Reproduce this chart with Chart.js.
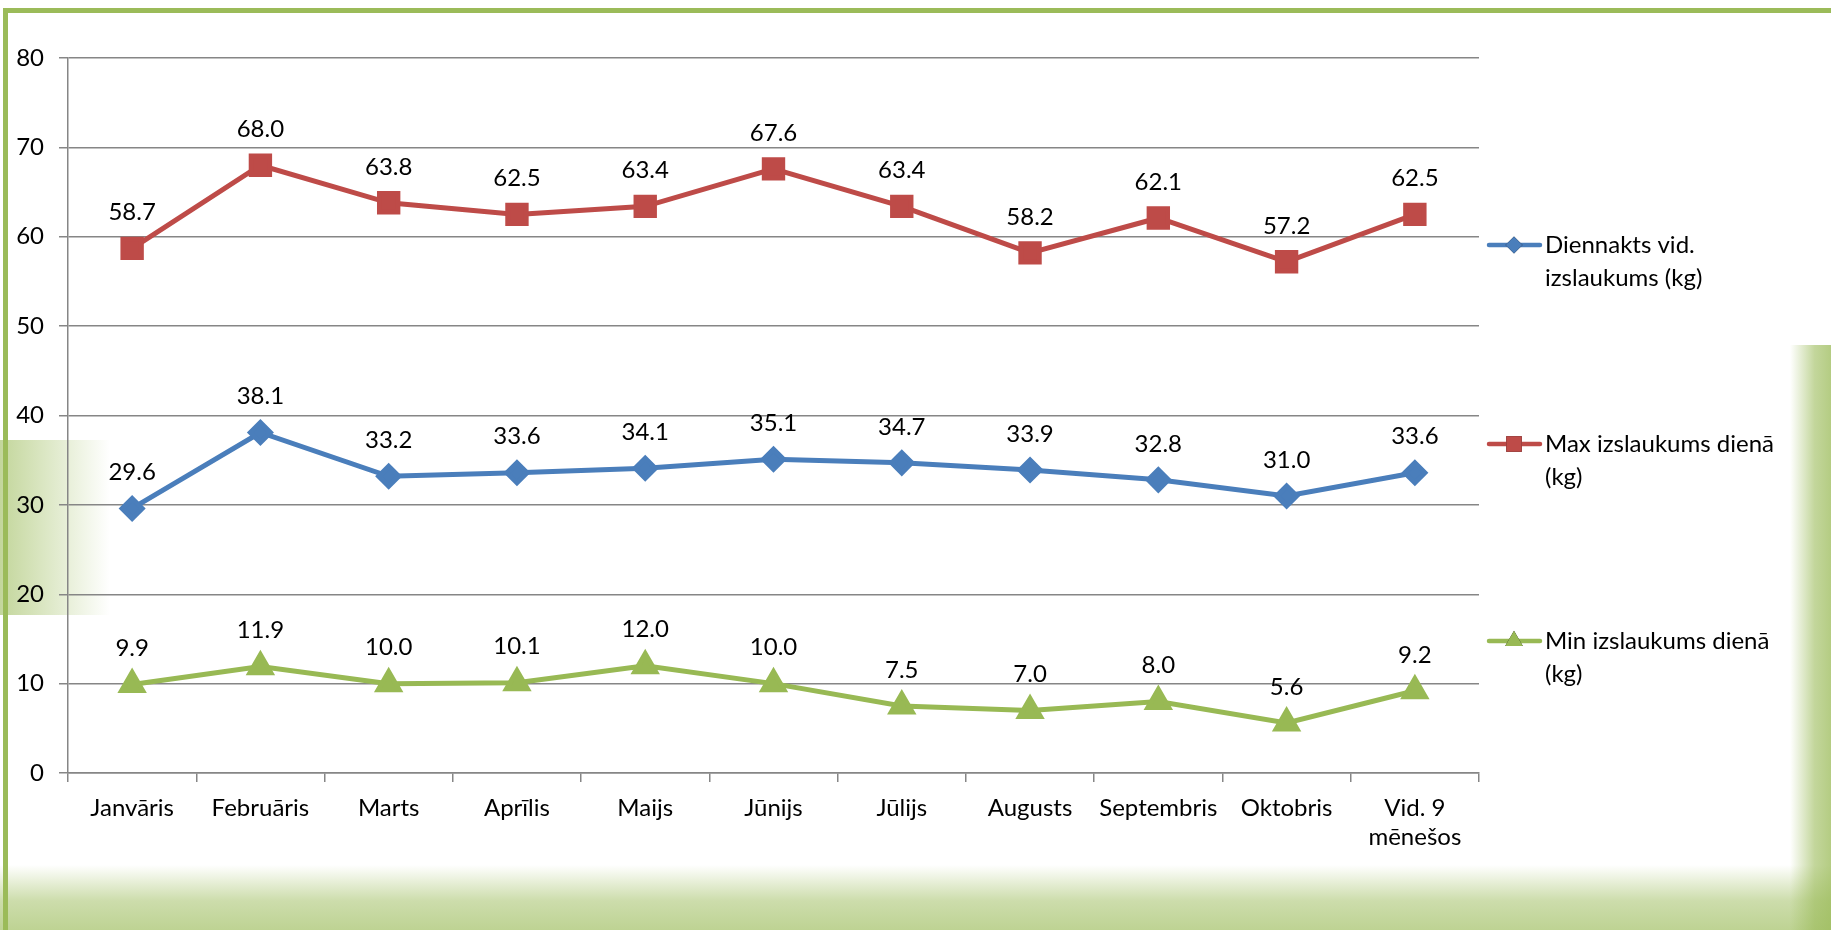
<!DOCTYPE html>
<html lang="lv">
<head>
  <meta charset="UTF-8" />
  <title>Izslaukums</title>
  <script src="https://cdn.jsdelivr.net/npm/chart.js@4.4.0/dist/chart.umd.min.js"></script>
  <style>
    html, body {
      margin: 0;
      padding: 0;
      background: #fff;
      overflow: hidden;
    }
    .frame {
      position: absolute;
      left: 3px;
      top: 8px;
      width: 1828px;
      height: 922px;
      border-top: 5px solid #9bbb59;
      border-left: 5px solid #9bbb59;
      box-sizing: border-box;
    }
    .band-bottom {
      position: absolute;
      left: 0;
      top: 865px;
      width: 1831px;
      height: 65px;
      background: linear-gradient(to bottom, rgba(155,187,89,0) 0%, rgba(155,187,89,0.5) 55%, rgba(155,187,89,0.65) 100%);
    }
    .band-right {
      position: absolute;
      left: 1790px;
      top: 345px;
      width: 41px;
      height: 585px;
      background: linear-gradient(to right, rgba(155,187,89,0) 0%, rgba(155,187,89,0.6) 60%, rgba(155,187,89,0.75) 100%);
    }
    .patch-left {
      position: absolute;
      left: 0;
      top: 440px;
      width: 110px;
      height: 175px;
      background: linear-gradient(to right, rgba(155,187,89,0.6) 0%, rgba(155,187,89,0) 100%);
    }
    .chart-box {
      position: absolute;
      left: 0;
      top: 0;
      width: 1831px;
      height: 930px;
    }
  </style>
</head>
<body>
  <div class="band-bottom"></div>
  <div class="band-right"></div>
  <div class="patch-left"></div>
  <div class="frame"></div>
  <div class="chart-box">
    <canvas id="milkChart" width="1831" height="930"></canvas>
  </div>

  <script>
    // categories (months)
    const months = ["Janvāris", "Februāris", "Marts", "Aprīlis", "Maijs", "Jūnijs",
      "Jūlijs", "Augusts", "Septembris", "Oktobris", ["Vid. 9", "mēnešos"]];

    // series values
    const avgDay = [29.6, 38.1, 33.2, 33.6, 34.1, 35.1, 34.7, 33.9, 32.8, 31.0, 33.6];
    const maxDay = [58.7, 68.0, 63.8, 62.5, 63.4, 67.6, 63.4, 58.2, 62.1, 57.2, 62.5];
    const minDay = [9.9, 11.9, 10.0, 10.1, 12.0, 10.0, 7.5, 7.0, 8.0, 5.6, 9.2];

    const seriesNames = [
      ["Diennakts vid.", "izslaukums (kg)"],
      ["Max izslaukums dienā", "(kg)"],
      ["Min izslaukums dienā", "(kg)"]
    ];
    const yTicks = [0, 10, 20, 30, 40, 50, 60, 70, 80];

    const FONT = "Lato, 'Open Sans', sans-serif";
    const FONT_SIZE = 24;

    // value labels above every point
    const valueLabels = {
      id: "valueLabels",
      afterDatasetsDraw(chart) {
        const ctx = chart.ctx;
        ctx.save();
        ctx.font = FONT_SIZE + "px " + FONT;
        ctx.fillStyle = "#000";
        ctx.textAlign = "center";
        ctx.textBaseline = "middle";
        chart.data.datasets.forEach((ds, i) => {
          chart.getDatasetMeta(i).data.forEach((pt, j) => {
            ctx.fillText(ds.data[j].toFixed(1), pt.x, pt.y - 36);
          });
        });
        ctx.restore();
      }
    };

    // legend on the right, two lines per entry
    const sideLegend = {
      id: "sideLegend",
      afterDraw(chart) {
        const ctx = chart.ctx;
        const rows = [245, 444, 641];
        ctx.save();
        ctx.font = FONT_SIZE + "px " + FONT;
        ctx.textBaseline = "middle";
        ctx.textAlign = "left";
        chart.data.datasets.forEach((ds, i) => {
          const y = rows[i];
          ctx.strokeStyle = ds.borderColor;
          ctx.lineWidth = 4.5;
          ctx.lineCap = "round";
          ctx.beginPath();
          ctx.moveTo(1489, y);
          ctx.lineTo(1540, y);
          ctx.stroke();
          Chart.helpers.drawPoint(ctx, {
            pointStyle: ds.pointStyle,
            radius: ds.pointRadius * 0.85,
            rotation: 0,
            borderWidth: 0
          }, 1514, y);
          ctx.fillStyle = ds.pointBackgroundColor;
          ctx.fill();
          ctx.fillStyle = "#000";
          seriesNames[i].forEach((line, k) => {
            ctx.fillText(line, 1545, y + k * 33);
          });
        });
        ctx.restore();
      }
    };

    const ctx = document.getElementById("milkChart").getContext("2d");
    new Chart(ctx, {
      type: "line",
      data: {
        labels: months,
        datasets: [
          {
            label: seriesNames[0].join(" "),
            data: avgDay,
            borderColor: "#4a7ebb",
            backgroundColor: "#4a7ebb",
            pointBackgroundColor: "#4a7ebb",
            pointBorderColor: "#4a7ebb",
            pointStyle: "rectRot",
            pointRadius: 10,
            borderWidth: 5,
            tension: 0
          },
          {
            label: seriesNames[1].join(" "),
            data: maxDay,
            borderColor: "#be4b48",
            backgroundColor: "#be4b48",
            pointBackgroundColor: "#be4b48",
            pointBorderColor: "#be4b48",
            pointStyle: "rect",
            pointRadius: 13,
            borderWidth: 5,
            tension: 0
          },
          {
            label: seriesNames[2].join(" "),
            data: minDay,
            borderColor: "#98b954",
            backgroundColor: "#98b954",
            pointBackgroundColor: "#98b954",
            pointBorderColor: "#98b954",
            pointStyle: "triangle",
            pointRadius: 12,
            borderWidth: 5,
            tension: 0
          }
        ]
      },
      options: {
        responsive: false,
        animation: false,
        layout: { padding: { top: 58, right: 352, bottom: 0, left: 0 } },
        plugins: {
          legend: { display: false },
          tooltip: { enabled: false }
        },
        scales: {
          x: {
            offset: true,
            grid: {
              offset: true,
              drawOnChartArea: false,
              color: "#868686",
              lineWidth: 1.5,
              tickLength: 9
            },
            border: { color: "#868686", width: 1.5 },
            ticks: {
              color: "#000",
              font: { family: FONT, size: FONT_SIZE },
              padding: 12,
              maxRotation: 0,
              autoSkip: false
            },
            afterFit(scale) { scale.height = 157; }
          },
          y: {
            min: 0,
            max: 80,
            afterBuildTicks(scale) {
              scale.ticks = yTicks.map(v => ({ value: v }));
            },
            grid: {
              color: "#868686",
              lineWidth: 1.5,
              tickLength: 9
            },
            border: { color: "#868686", width: 1.5 },
            ticks: {
              color: "#000",
              font: { family: FONT, size: FONT_SIZE },
              padding: 15
            },
            afterFit(scale) { scale.width = 68; }
          }
        }
      },
      plugins: [valueLabels, sideLegend]
    });
  </script>
</body>
</html>
